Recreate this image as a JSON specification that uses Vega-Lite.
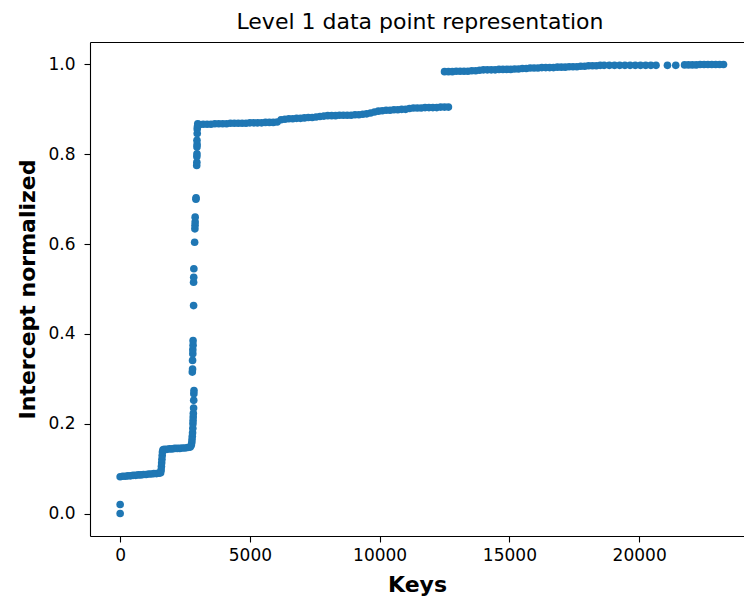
{
  "$schema": "https://vega.github.io/schema/vega-lite/v6.json",
  "width": 654,
  "height": 494,
  "autosize": {"type": "none"},
  "padding": {"left": 90, "top": 42, "right": 0, "bottom": 70},
  "background": "white",
  "title": {"text": "Level 1 data point representation", "font": "DejaVu Sans", "fontSize": 22, "fontWeight": "normal", "color": "black", "anchor": "middle", "baseline": "bottom", "offset": -14, "dx": 3},
  "data": {"values": [
    {"key":0,"value":0},{"key":0,"value":0.02},
    {"key":0,"value":0.082},{"key":100,"value":0.083},{"key":200,"value":0.083},{"key":300,"value":0.084},{"key":400,"value":0.084},{"key":500,"value":0.085},{"key":600,"value":0.085},{"key":700,"value":0.086},{"key":800,"value":0.086},{"key":900,"value":0.087},{"key":1000,"value":0.087},{"key":1100,"value":0.088},{"key":1200,"value":0.088},{"key":1300,"value":0.089},{"key":1400,"value":0.089},{"key":1500,"value":0.09},{"key":1560,"value":0.091},
    {"key":1580,"value":0.097},{"key":1590,"value":0.105},{"key":1600,"value":0.113},{"key":1610,"value":0.121},{"key":1620,"value":0.129},{"key":1630,"value":0.137},{"key":1650,"value":0.142},
    {"key":1700,"value":0.143},{"key":1800,"value":0.143},{"key":1900,"value":0.144},{"key":2000,"value":0.144},{"key":2100,"value":0.145},{"key":2200,"value":0.145},{"key":2300,"value":0.145},{"key":2400,"value":0.146},{"key":2500,"value":0.146},{"key":2600,"value":0.147},{"key":2700,"value":0.148},
    {"key":2740,"value":0.152},{"key":2760,"value":0.158},{"key":2770,"value":0.165},{"key":2780,"value":0.172},{"key":2790,"value":0.18},{"key":2800,"value":0.19},{"key":2805,"value":0.2},{"key":2810,"value":0.207},{"key":2815,"value":0.215},{"key":2820,"value":0.223},{"key":2830,"value":0.235},{"key":2835,"value":0.252},{"key":2840,"value":0.267},{"key":2845,"value":0.274},
    {"key":2780,"value":0.315},{"key":2790,"value":0.322},{"key":2790,"value":0.341},{"key":2800,"value":0.356},{"key":2800,"value":0.365},{"key":2810,"value":0.375},{"key":2810,"value":0.385},{"key":2830,"value":0.463},{"key":2830,"value":0.515},{"key":2835,"value":0.526},{"key":2840,"value":0.545},{"key":2870,"value":0.604},{"key":2880,"value":0.634},{"key":2885,"value":0.642},{"key":2890,"value":0.649},{"key":2890,"value":0.66},{"key":2920,"value":0.7},{"key":2925,"value":0.703},
    {"key":2950,"value":0.775},{"key":2955,"value":0.782},{"key":2955,"value":0.795},{"key":2960,"value":0.801},{"key":2960,"value":0.816},{"key":2965,"value":0.822},{"key":2960,"value":0.831},{"key":2970,"value":0.846},{"key":2970,"value":0.856},{"key":2980,"value":0.862},{"key":2990,"value":0.868},
    {"key":3050,"value":0.866},{"key":3200,"value":0.867},{"key":3350,"value":0.867},{"key":3500,"value":0.867},{"key":3650,"value":0.868},{"key":3800,"value":0.868},{"key":3950,"value":0.868},{"key":4100,"value":0.868},{"key":4250,"value":0.869},{"key":4400,"value":0.869},{"key":4550,"value":0.869},{"key":4700,"value":0.869},{"key":4850,"value":0.869},{"key":5000,"value":0.87},{"key":5150,"value":0.87},{"key":5300,"value":0.87},{"key":5450,"value":0.87},{"key":5600,"value":0.871},{"key":5750,"value":0.871},{"key":5900,"value":0.871},{"key":6050,"value":0.872},{"key":6200,"value":0.877},{"key":6350,"value":0.878},{"key":6500,"value":0.879},{"key":6650,"value":0.879},{"key":6800,"value":0.88},{"key":6950,"value":0.88},{"key":7100,"value":0.881},{"key":7250,"value":0.882},{"key":7400,"value":0.882},{"key":7550,"value":0.883},{"key":7700,"value":0.884},{"key":7850,"value":0.885},{"key":8000,"value":0.886},{"key":8150,"value":0.886},{"key":8300,"value":0.886},{"key":8450,"value":0.887},{"key":8600,"value":0.887},{"key":8750,"value":0.887},{"key":8900,"value":0.887},{"key":9050,"value":0.888},{"key":9200,"value":0.888},{"key":9350,"value":0.889},{"key":9500,"value":0.89},{"key":9650,"value":0.892},{"key":9800,"value":0.894},{"key":9950,"value":0.896},{"key":10100,"value":0.897},{"key":10250,"value":0.898},{"key":10400,"value":0.898},{"key":10550,"value":0.899},{"key":10700,"value":0.899},{"key":10850,"value":0.9},{"key":11000,"value":0.9},{"key":11150,"value":0.902},{"key":11300,"value":0.903},{"key":11450,"value":0.903},{"key":11600,"value":0.903},{"key":11750,"value":0.904},{"key":11900,"value":0.904},{"key":12050,"value":0.904},{"key":12200,"value":0.904},{"key":12350,"value":0.905},{"key":12500,"value":0.905},{"key":12650,"value":0.905},
    {"key":12500,"value":0.984},{"key":12650,"value":0.984},{"key":12800,"value":0.984},{"key":12950,"value":0.985},{"key":13100,"value":0.985},{"key":13250,"value":0.985},{"key":13400,"value":0.985},{"key":13550,"value":0.986},{"key":13700,"value":0.986},{"key":13850,"value":0.987},{"key":14000,"value":0.988},{"key":14150,"value":0.988},{"key":14300,"value":0.988},{"key":14450,"value":0.988},{"key":14600,"value":0.989},{"key":14750,"value":0.989},{"key":14900,"value":0.989},{"key":15050,"value":0.989},{"key":15200,"value":0.99},{"key":15350,"value":0.99},{"key":15500,"value":0.991},{"key":15650,"value":0.991},{"key":15800,"value":0.992},{"key":15950,"value":0.992},{"key":16100,"value":0.992},{"key":16250,"value":0.993},{"key":16400,"value":0.993},{"key":16550,"value":0.993},{"key":16700,"value":0.993},{"key":16850,"value":0.994},{"key":17000,"value":0.994},{"key":17150,"value":0.994},{"key":17300,"value":0.995},{"key":17450,"value":0.995},{"key":17600,"value":0.995},{"key":17750,"value":0.996},{"key":17900,"value":0.996},{"key":18050,"value":0.997},{"key":18200,"value":0.997},{"key":18350,"value":0.997},{"key":18500,"value":0.998},{"key":18650,"value":0.998},
    {"key":18850,"value":0.998},{"key":19050,"value":0.998},{"key":19250,"value":0.998},{"key":19450,"value":0.998},{"key":19650,"value":0.998},{"key":19850,"value":0.998},{"key":20050,"value":0.998},{"key":20250,"value":0.998},{"key":20450,"value":0.998},{"key":20650,"value":0.998},
    {"key":21090,"value":0.998},{"key":21410,"value":0.998},
    {"key":21750,"value":0.999},{"key":21900,"value":0.999},{"key":22050,"value":0.999},{"key":22200,"value":0.999},{"key":22350,"value":1.0},{"key":22500,"value":1.0},{"key":22650,"value":1.0},{"key":22800,"value":1.0},{"key":22950,"value":1.0},{"key":23100,"value":1.0},{"key":23250,"value":1.0}
  ]},
  "config": {
    "view": {"stroke": null},
    "axis": {"labelFont": "DejaVu Sans", "titleFont": "DejaVu Sans", "domainColor": "black", "tickColor": "black", "labelColor": "black", "titleColor": "black", "grid": false, "domainWidth": 1.1, "tickWidth": 1.1}
  },
  "layer": [
    {
      "mark": {"type": "circle", "color": "#1f77b4", "opacity": 1, "size": 58},
      "encoding": {
        "x": {"field": "key", "type": "quantitative", "scale": {"domain": [-1162, 24040], "nice": false, "zero": false},
              "axis": {"orient": "bottom", "values": [0, 5000, 10000, 15000, 20000], "format": "d", "labelFontSize": 17, "tickSize": 6, "labelPadding": 5, "labelFlush": false, "title": "Keys", "titleFontSize": 22, "titleFontWeight": "bold", "titlePadding": 11}},
        "y": {"field": "value", "type": "quantitative", "scale": {"domain": [-0.05, 1.05], "nice": false, "zero": false},
              "axis": {"values": [0, 0.2, 0.4, 0.6, 0.8, 1.0], "format": ".1f", "labelFontSize": 17, "tickSize": 6, "labelPadding": 9, "labelFlush": false, "title": "Intercept normalized", "titleFontSize": 22, "titleFontWeight": "bold", "titlePadding": 8}}
      }
    },
    {
      "mark": {"type": "circle", "opacity": 0},
      "encoding": {
        "x": {"field": "key", "type": "quantitative", "axis": {"orient": "top", "labels": false, "ticks": false, "title": null, "tickSize": 0, "labelPadding": 0, "minExtent": 0, "maxExtent": 0, "offset": 0}},
        "y": {"field": "value", "type": "quantitative"}
      }
    }
  ],
  "resolve": {"axis": {"x": "independent"}}
}
